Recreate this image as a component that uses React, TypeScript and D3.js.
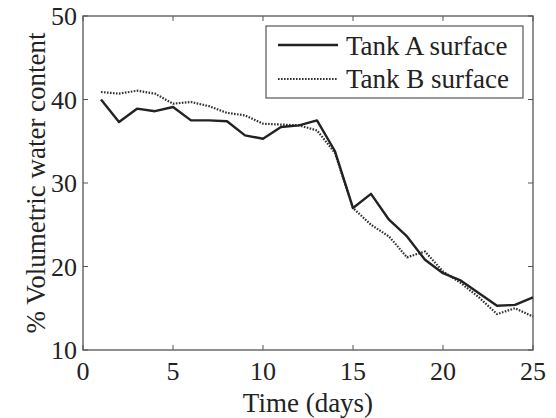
import React from "react";
import * as d3 from "d3";

const days = [1,2,3,4,5,6,7,8,9,10,11,12,13,14,15,16,17,18,19,20,21,22,23,24,25];
const tankA = [40.0,37.3,38.9,38.6,39.1,37.5,37.5,37.4,35.7,35.3,36.7,36.9,37.5,33.8,27.0,28.7,25.6,23.6,20.8,19.2,18.3,16.8,15.3,15.4,16.3];
const tankB = [40.9,40.7,41.05,40.7,39.5,39.7,39.2,38.4,38.1,37.1,37.0,36.9,36.3,33.6,27.0,25.0,23.6,21.1,21.8,19.4,18.0,16.3,14.3,15.0,14.0];
const xTicks = [0,5,10,15,20,25];
const yTicks = [10,20,30,40,50];
const seriesNames = ["Tank A surface", "Tank B surface"];

const W = 556, H = 418;
const L = 83, R = 533, T = 16, B = 350;
const font = '"Liberation Serif", "Times New Roman", Times, "DejaVu Serif", serif';

export default function App() {
  const x = d3.scaleLinear().domain([0, 25]).range([L, R]);
  const y = d3.scaleLinear().domain([10, 50]).range([B, T]);
  const line = d3.line<number>().x((_, i) => x(days[i])).y(v => y(v));
  const axisColor = "#555";
  const tl = 5;
  const ts = { fontFamily: font };
  return (
    <svg width={W} height={H} style={{ position: "absolute", left: 0, top: 0, background: "#fff", fontFamily: font }}>
      <rect x={L} y={T} width={R - L} height={B - T} fill="none" stroke={axisColor} strokeWidth={1.3} />
      {xTicks.map(t => (
        <g key={"x" + t}>
          <line x1={x(t)} x2={x(t)} y1={B} y2={B - tl} stroke={axisColor} strokeWidth={1} />
          <line x1={x(t)} x2={x(t)} y1={T} y2={T + tl} stroke={axisColor} strokeWidth={1} />
          <text x={x(t)} y={380} textAnchor="middle" style={ts} fontSize={26} fill="#222">{t}</text>
        </g>
      ))}
      {yTicks.map(t => (
        <g key={"y" + t}>
          <line x1={L} x2={L + tl} y1={y(t)} y2={y(t)} stroke={axisColor} strokeWidth={1} />
          <line x1={R} x2={R - tl} y1={y(t)} y2={y(t)} stroke={axisColor} strokeWidth={1} />
          <text x={77} y={y(t) + 9} textAnchor="end" style={ts} fontSize={26} fill="#222">{t}</text>
        </g>
      ))}
      <path d={line(tankB) || ""} fill="none" stroke="#333" strokeWidth={2.2} strokeDasharray="1.6 1.4" />
      <path d={line(tankA) || ""} fill="none" stroke="#222" strokeWidth={2.4} strokeLinejoin="round" />
      <g>
        <rect x={266} y={26} width={257} height={72} fill="#fff" stroke={axisColor} strokeWidth={1.2} />
        <line x1={278} x2={338} y1={45} y2={45} stroke="#222" strokeWidth={2.4} />
        <line x1={278} x2={338} y1={79} y2={79} stroke="#333" strokeWidth={2.2} strokeDasharray="1.6 1.4" />
        <text x={346} y={55} style={ts} fontSize={27} fill="#222">{seriesNames[0]}</text>
        <text x={346} y={88} style={ts} fontSize={27} fill="#222">{seriesNames[1]}</text>
      </g>
      <text x={308} y={412} textAnchor="middle" style={ts} fontSize={27} fill="#222">Time (days)</text>
      <text transform={`translate(45,${(T + B) / 2}) rotate(-90)`} textAnchor="middle" style={ts} fontSize={27} fill="#222">% Volumetric water content</text>
    </svg>
  );
}
